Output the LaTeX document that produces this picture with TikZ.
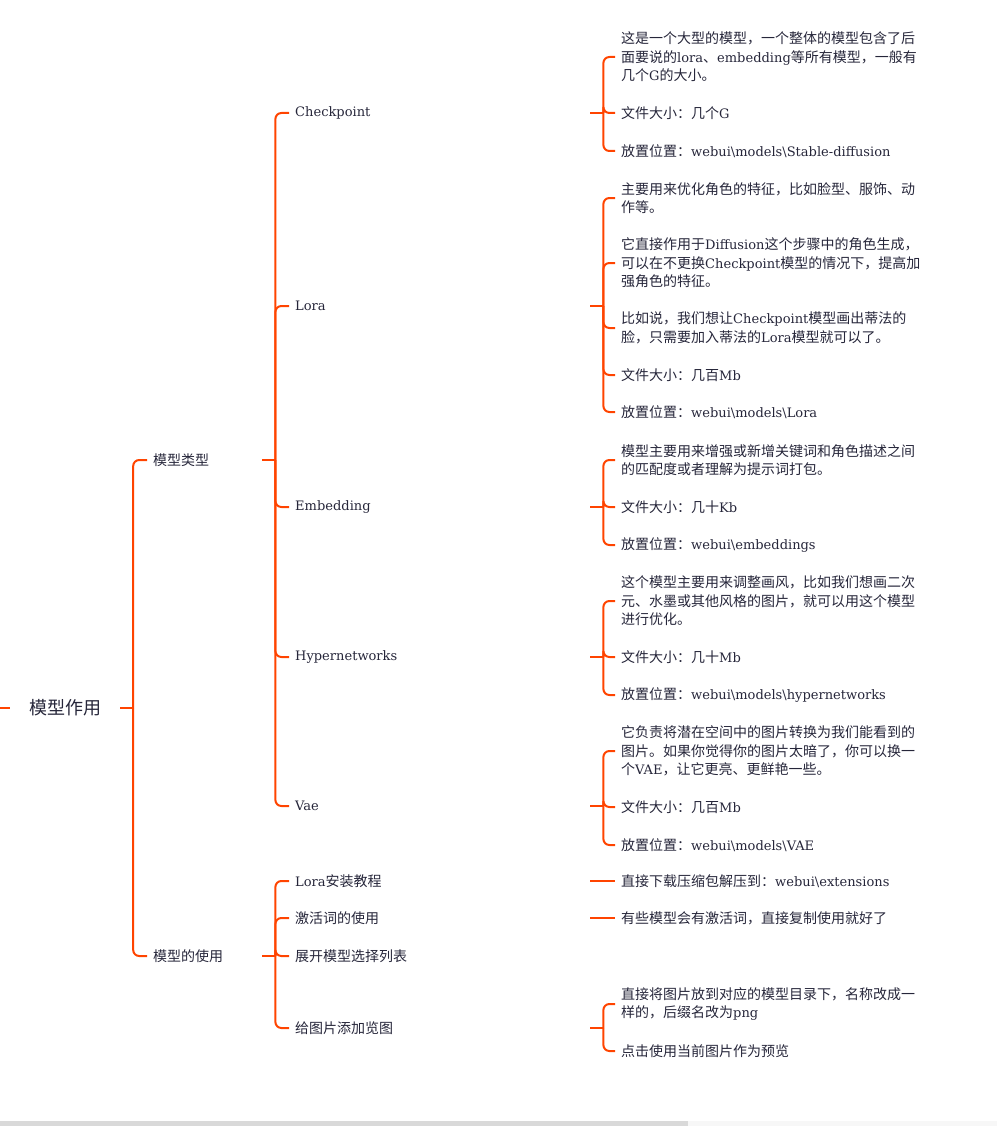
\documentclass[tikz,border=0pt]{standalone}
\usepackage{fontspec}
\usepackage{xcolor}
\usepackage{tikz}
\usetikzlibrary{positioning}
\setmainfont{Noto Sans CJK SC}
\newfontfamily\latinfont{DejaVu Serif}[Scale=0.93]
\definecolor{branchc}{RGB}{255,68,0}
\definecolor{textc}{RGB}{38,38,58}
\definecolor{scrolldark}{RGB}{217,217,217}
\definecolor{scrolllight}{RGB}{247,247,247}
\tikzstyle{branch} = [draw=branchc, line width=2pt]
\tikzstyle{fork} = [branch, rounded corners=6pt]
\tikzstyle{rootnode} = [minimum width=110pt, inner sep=0pt, text=textc, font=\fontsize{18}{22}\selectfont]
\tikzstyle{lvone} = [anchor=west, inner xsep=6pt, inner ysep=0pt, text width=103pt, align=left, text=textc, font=\fontsize{14}{18.5}\selectfont]
\tikzstyle{lvtwo} = [lvone, text width=289pt]
\tikzstyle{lvthree} = [anchor=west, inner xsep=6pt, inner ysep=0pt, align=left, text=textc, font=\fontsize{14}{18.5}\selectfont]

\begin{document}
\begin{tikzpicture}[x=1pt, y=-1pt]
\useasboundingbox (0,0) rectangle (997,1126);

% Root
\coordinate (rootin) at (0,708);
\node (root) [rootnode] at (65,708) {模型作用};

% Level 1
\node (typ) [lvone] at (147,460) {模型类型};
\node (use) [lvone] at (147,956) {模型的使用};

% Level 2: model types
\node (ckp) [lvtwo] at (289,113) {{\latinfont Checkpoint}};
\node (lora) [lvtwo] at (289,306) {{\latinfont Lora}};
\node (emb) [lvtwo] at (289,507) {{\latinfont Embedding}};
\node (hyp) [lvtwo] at (289,657) {{\latinfont Hypernetworks}};
\node (vae) [lvtwo] at (289,806) {{\latinfont Vae}};

% Level 2: usage
\node (lins) [lvtwo] at (289,881) {{\latinfont Lora}安装教程};
\node (act) [lvtwo] at (289,918) {激活词的使用};
\node (list) [lvtwo] at (289,956) {展开模型选择列表};
\node (prev) [lvtwo] at (289,1028) {给图片添加览图};

% Level 3: Checkpoint
\node (ck1) [lvthree] at (615,57) {这是一个大型的模型，一个整体的模型包含了后\\面要说的{\latinfont lora}、{\latinfont embedding}等所有模型，一般有\\几个{\latinfont G}的大小。};
\node (ck2) [lvthree] at (615,113) {文件大小：几个{\latinfont G}};
\node (ck3) [lvthree] at (615,151) {放置位置：{\latinfont webui\textbackslash models\textbackslash Stable-diffusion}};

% Level 3: Lora
\node (lr1) [lvthree] at (615,198) {主要用来优化角色的特征，比如脸型、服饰、动\\作等。};
\node (lr2) [lvthree] at (615,263) {它直接作用于{\latinfont Diffusion}这个步骤中的角色生成，\\可以在不更换{\latinfont Checkpoint}模型的情况下，提高加\\强角色的特征。};
\node (lr3) [lvthree] at (615,328) {比如说，我们想让{\latinfont Checkpoint}模型画出蒂法的\\脸，只需要加入蒂法的{\latinfont Lora}模型就可以了。};
\node (lr4) [lvthree] at (615,375) {文件大小：几百{\latinfont Mb}};
\node (lr5) [lvthree] at (615,412) {放置位置：{\latinfont webui\textbackslash models\textbackslash Lora}};

% Level 3: Embedding
\node (em1) [lvthree] at (615,460) {模型主要用来增强或新增关键词和角色描述之间\\的匹配度或者理解为提示词打包。};
\node (em2) [lvthree] at (615,507) {文件大小：几十{\latinfont Kb}};
\node (em3) [lvthree] at (615,545) {放置位置：{\latinfont webui\textbackslash embeddings}};

% Level 3: Hypernetworks
\node (hn1) [lvthree] at (615,601) {这个模型主要用来调整画风，比如我们想画二次\\元、水墨或其他风格的图片，就可以用这个模型\\进行优化。};
\node (hn2) [lvthree] at (615,657) {文件大小：几十{\latinfont Mb}};
\node (hn3) [lvthree] at (615,695) {放置位置：{\latinfont webui\textbackslash models\textbackslash hypernetworks}};

% Level 3: Vae
\node (va1) [lvthree] at (615,751) {它负责将潜在空间中的图片转换为我们能看到的\\图片。如果你觉得你的图片太暗了，你可以换一\\个{\latinfont VAE}，让它更亮、更鲜艳一些。};
\node (va2) [lvthree] at (615,807) {文件大小：几百{\latinfont Mb}};
\node (va3) [lvthree] at (615,845) {放置位置：{\latinfont webui\textbackslash models\textbackslash VAE}};

% Level 3: usage
\node (us1) [lvthree] at (615,881) {直接下载压缩包解压到：{\latinfont webui\textbackslash extensions}};
\node (us2) [lvthree] at (615,918) {有些模型会有激活词，直接复制使用就好了};
\node (pv1) [lvthree] at (615,1004) {直接将图片放到对应的模型目录下，名称改成一\\样的，后缀名改为{\latinfont png}};
\node (pv2) [lvthree] at (615,1051) {点击使用当前图片作为预览};

% Branches
\draw [branch] (rootin) -- (root.west);
\draw [branch] (root.east) -- ++(13,0) coordinate (root-t);
\foreach \c in {typ,use} \draw [fork] (root-t) |- (\c.west);

\draw [branch] (typ.east) -- ++(13,0) coordinate (typ-t);
\foreach \c in {ckp,lora,emb,hyp,vae} \draw [fork] (typ-t) |- (\c.west);

\draw [branch] (use.east) -- ++(13,0) coordinate (use-t);
\foreach \c in {lins,act,list,prev} \draw [fork] (use-t) |- (\c.west);

\draw [branch] (ckp.east) -- ++(13,0) coordinate (ckp-t);
\foreach \c in {ck1,ck2,ck3} \draw [fork] (ckp-t) |- (\c.west);

\draw [branch] (lora.east) -- ++(13,0) coordinate (lora-t);
\foreach \c in {lr1,lr2,lr3,lr4,lr5} \draw [fork] (lora-t) |- (\c.west);

\draw [branch] (emb.east) -- ++(13,0) coordinate (emb-t);
\foreach \c in {em1,em2,em3} \draw [fork] (emb-t) |- (\c.west);

\draw [branch] (hyp.east) -- ++(13,0) coordinate (hyp-t);
\foreach \c in {hn1,hn2,hn3} \draw [fork] (hyp-t) |- (\c.west);

\draw [branch] (vae.east) -- ++(13,0) coordinate (vae-t);
\foreach \c in {va1,va2,va3} \draw [fork] (vae-t) |- (\c.west);

\draw [branch] (lins.east) -- (us1.west);
\draw [branch] (act.east) -- (us2.west);

\draw [branch] (prev.east) -- ++(13,0) coordinate (prev-t);
\foreach \c in {pv1,pv2} \draw [fork] (prev-t) |- (\c.west);

% Scroll bar
\fill [scrolldark] (0,1121) rectangle (688,1126);
\fill [scrolllight] (688,1121) rectangle (997,1126);

\end{tikzpicture}
\end{document}
